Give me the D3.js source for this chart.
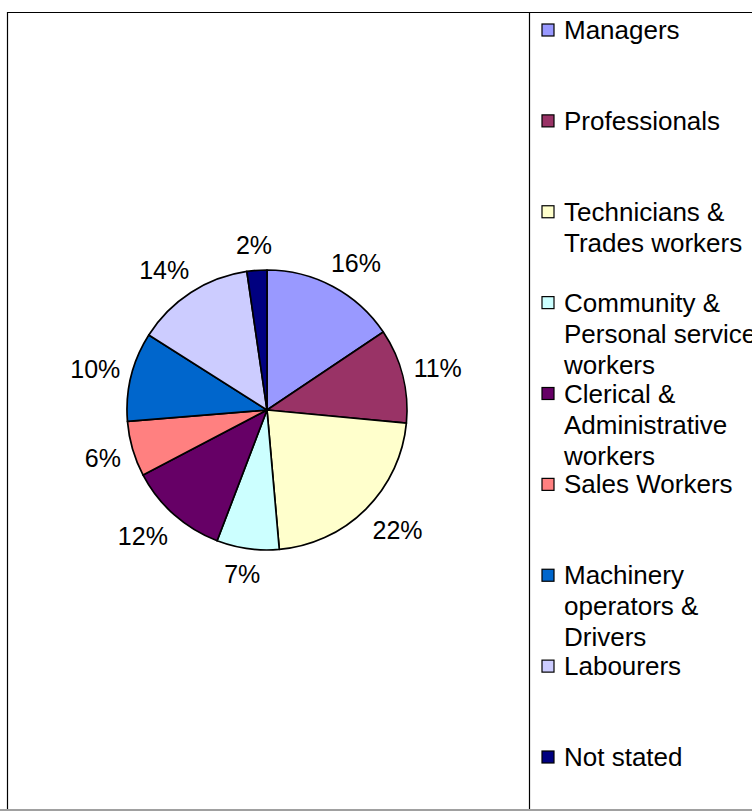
<!DOCTYPE html>
<html>
<head>
<meta charset="utf-8">
<script src="https://cdn.jsdelivr.net/npm/d3@7"></script>
<style>
  html, body { margin: 0; padding: 0; background: #fff; }
  svg { display: block; font-family: "Liberation Sans", Arial, sans-serif; }
</style>
</head>
<body>
<svg id="chart" width="752" height="812"></svg>
<script>
// occupation shares (%), clockwise from 12 o'clock
const categories = [
    'Managers',
    'Professionals',
    'Technicians & Trades workers',
    'Community & Personal service workers',
    'Clerical & Administrative workers',
    'Sales Workers',
    'Machinery operators & Drivers',
    'Labourers',
    'Not stated'
];
const shares = [15.6, 10.9, 22.1, 7.2, 11.5, 6.4, 10.3, 13.7, 2.3];
const sliceColors = ['#9999FF', '#993366', '#FFFFCC', '#CCFFFF', '#660066', '#FF8080', '#0066CC', '#CCCCFF', '#000080'];

const W = 752, H = 812;
const frame = { left: 7.5, top: 12.5, bottom: 810, divider: 529.5 };
const pieBox = { cx: 267, cy: 410, r: 140 };
const legend = { swatchX: 542, textX: 564, top: 30, bottom: 757, lineH: 31, wrap: 205 };

const svg = d3.select('#chart');

// frame lines
svg.append('line')
    .attr('x1', 0).attr('x2', W)
    .attr('y1', frame.bottom).attr('y2', frame.bottom)
    .attr('stroke', '#a0a0a0').attr('stroke-width', 2);
svg.append('path')
    .attr('d', `M${frame.left},${frame.bottom - 1}V${frame.top}H${W + 5}M${frame.divider},${frame.top}V${frame.bottom - 1}`)
    .attr('fill', 'none')
    .attr('stroke', '#000')
    .attr('stroke-width', 1.2);

const data = categories.map((name, i) => ({ name, value: shares[i], color: sliceColors[i] }));

const pie = d3.pie().sort(null).value(d => d.value);
const arcs = pie(data);

const arc = d3.arc().innerRadius(0).outerRadius(pieBox.r);

const g = svg.append('g').attr('transform', `translate(${pieBox.cx},${pieBox.cy})`);

g.selectAll('path.slice')
    .data(arcs)
    .enter()
    .append('path')
    .attr('class', 'slice')
    .attr('d', arc)
    .attr('fill', d => d.data.color)
    .attr('stroke', '#000')
    .attr('stroke-width', 1.7)
    .attr('stroke-linejoin', 'round');

// percentage labels, pushed out past the rim and nudged by their box size
const labelGap = 15;
const fmt = v => Math.round(v) + '%';
g.selectAll('text.pct')
    .data(arcs)
    .enter()
    .append('text')
    .attr('class', 'pct')
    .attr('font-size', 25)
    .attr('text-anchor', 'middle')
    .text(d => fmt(d.data.value))
    .each(function (d) {
        const a = (d.startAngle + d.endAngle) / 2;
        const ux = Math.sin(a), uy = -Math.cos(a);
        const bw = this.getComputedTextLength(), bh = 20;
        const clamp = v => Math.max(-1, Math.min(1, v * 1.6));
        const x = ux * (pieBox.r + labelGap) + clamp(ux) * bw / 2 * 0.85;
        const y = uy * (pieBox.r + labelGap) + clamp(uy) * bh / 2;
        d3.select(this).attr('x', x).attr('y', y + 9);
    });

// legend
const ly = d3.scalePoint()
    .domain(categories)
    .range([legend.top, legend.bottom]);

const items = svg.append('g').selectAll('g.item')
    .data(data)
    .enter()
    .append('g')
    .attr('class', 'item')
    .attr('transform', d => `translate(0,${ly(d.name)})`);

items.append('rect')
    .attr('x', legend.swatchX)
    .attr('y', -6)
    .attr('width', 12)
    .attr('height', 12)
    .attr('fill', d => d.color)
    .attr('stroke', '#000')
    .attr('stroke-width', 1.2);

items.append('text')
    .attr('x', legend.textX)
    .attr('y', 9)
    .attr('font-size', 26)
    .each(function (d) {
        const text = d3.select(this);
        const words = d.name.split(' ');
        let line = [];
        let tspan = text.append('tspan').attr('x', legend.textX).attr('dy', 0);
        words.forEach(w => {
            line.push(w);
            tspan.text(line.join(' '));
            if (tspan.node().getComputedTextLength() > legend.wrap && line.length > 1) {
                line.pop();
                tspan.text(line.join(' '));
                line = [w];
                tspan = text.append('tspan').attr('x', legend.textX).attr('dy', legend.lineH).text(w);
            }
        });
    });
</script>
</body>
</html>
